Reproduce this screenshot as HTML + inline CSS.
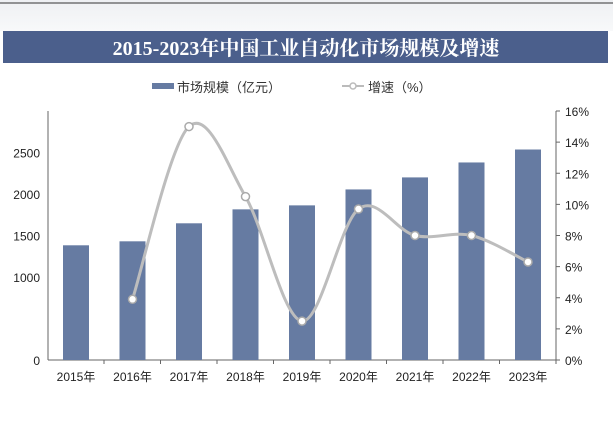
<!DOCTYPE html>
<html><head><meta charset="utf-8"><style>
body{margin:0;width:613px;height:424px;background:#fff;overflow:hidden;font-family:"Liberation Sans","Noto Sans CJK SC",sans-serif}
</style></head><body>
<svg width="613" height="424">
<defs><linearGradient id="g" x1="0" y1="0" x2="0" y2="1"><stop offset="0" stop-color="#eef0f3"/><stop offset="1" stop-color="#f8f9fa"/></linearGradient></defs>
<rect x="0" y="0" width="613" height="31" fill="url(#g)"/>
<line x1="0" y1="3" x2="613" y2="3" stroke="#333" stroke-width="1"/>
<rect x="3" y="31" width="605" height="32" fill="#4b5f8c"/>
<text x="306" y="55" text-anchor="middle" fill="#fff" font-size="20" font-weight="bold" font-family="Liberation Serif,'Noto Serif CJK SC',serif">2015-2023年中国工业自动化市场规模及增速</text>
<g>
<rect x="152" y="83" width="22" height="6" fill="#667ba2"/>
<text x="177" y="92" font-size="13" fill="#333">市场规模（亿元）</text>
<line x1="342" y1="86" x2="364" y2="86" stroke="#bbb" stroke-width="2"/>
<circle cx="353" cy="86" r="3" fill="#fff" stroke="#bbb" stroke-width="1.5"/>
<text x="368" y="92" font-size="13" fill="#333">增速（%）</text>
</g>
<g id="plot"></g>
</svg>
<script>
const categories=["2015年","2016年","2017年","2018年","2019年","2020年","2021年","2022年","2023年"];
const marketSize=[1382,1430,1647,1815,1863,2055,2200,2380,2536];
const growth=[null,3.9,15.0,10.5,2.5,9.7,8.0,8.0,6.3];
const leftTicks=[0,1000,1500,2000,2500];
const rightTicks=[0,2,4,6,8,10,12,14,16];
const NS="http://www.w3.org/2000/svg";
const g=document.getElementById('plot');
const x0=48,x1=556,yb=360,yt=111;
const xs=i=>76+i*56.5;
const yl=v=>yb-(v/3000)*(yb-yt);
const yr=v=>yb-(v/16)*(yb-yt);
function mk(t,a,p){const e=document.createElementNS(NS,t);for(const k in a)e.setAttribute(k,a[k]);(p||g).appendChild(e);return e;}
let e=mk('line',{x1:x0,y1:yt,x2:x0,y2:yb,stroke:'#666'});


e=mk('line',{x1:x0,y1:yb,x2:x1,y2:yb,stroke:'#666'});


e=mk('line',{x1:x1,y1:yt,x2:x1,y2:yb,stroke:'#666'});


leftTicks.forEach(v=>{
 const t=mk('text',{x:40,y:yl(v)+5,'text-anchor':'end','font-size':12,fill:'#222'});t.textContent=v;
 
 
});
rightTicks.forEach(v=>{
 mk('line',{x1:x1,y1:yr(v),x2:x1+4,y2:yr(v),stroke:'#666'});
 const t=mk('text',{x:565,y:yr(v)+5,'font-size':12,fill:'#222'});t.textContent=v+'%';
 
 
});
categories.forEach((c,i)=>{
 const b=mk('rect',{x:xs(i)-13,y:yl(marketSize[i]),width:26,height:yb-yl(marketSize[i]),fill:'#667ba2'});
 
 
 mk('line',{x1:xs(i)+28,y1:yb,x2:xs(i)+28,y2:yb+4,stroke:'#666'});
 const t=mk('text',{x:xs(i),y:381,'text-anchor':'middle','font-size':12,fill:'#222'});t.textContent=c;
 
 
});
const pts=[];growth.forEach((v,i)=>{if(v!==null)pts.push([xs(i),yr(v)]);});
let d='M'+pts[0][0]+','+pts[0][1];
for(let i=0;i<pts.length-1;i++){
 const p0=pts[Math.max(0,i-1)],p1=pts[i],p2=pts[i+1],p3=pts[Math.min(pts.length-1,i+2)];
 const s=6;
 d+=' C'+(p1[0]+(p2[0]-p0[0])/s)+','+(p1[1]+(p2[1]-p0[1])/s)+' '+(p2[0]-(p3[0]-p1[0])/s)+','+(p2[1]-(p3[1]-p1[1])/s)+' '+p2[0]+','+p2[1];
}
const ln=mk('path',{d:d,fill:'none',stroke:'#bdbdbd','stroke-width':3});


pts.forEach(p=>{
 const c=mk('circle',{cx:p[0],cy:p[1],r:4,fill:'#fff',stroke:'#aaa','stroke-width':1.5});
 
 
});
</script>
</body></html>
